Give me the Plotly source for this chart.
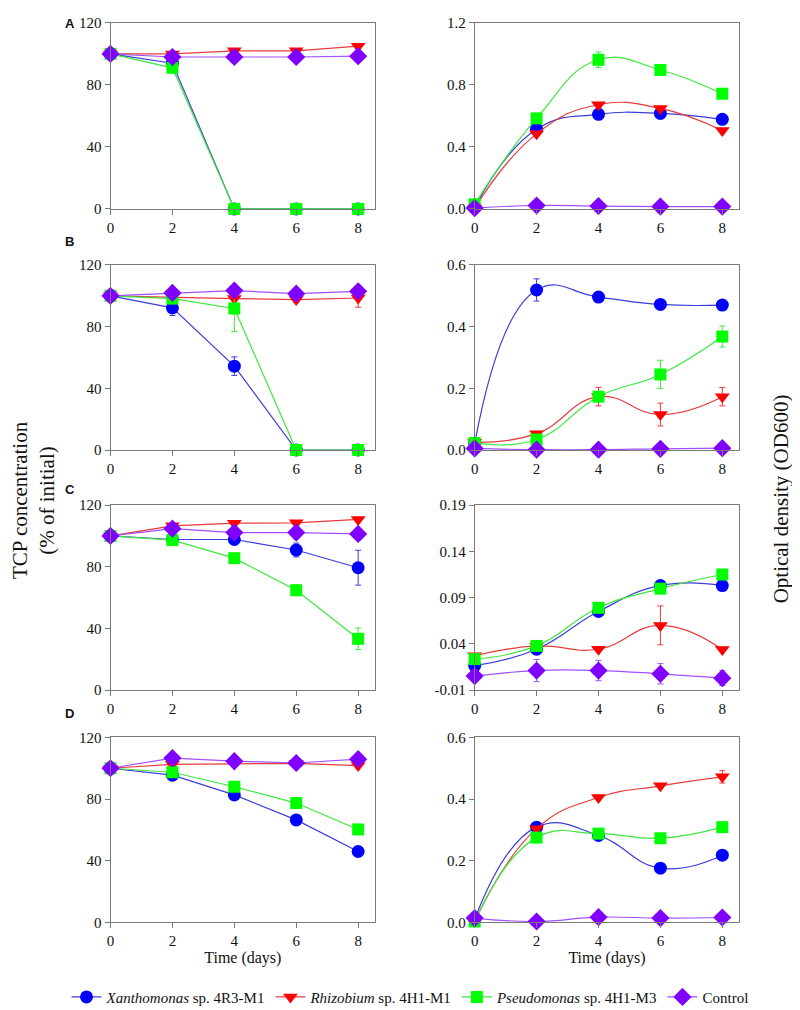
import plotly.graph_objects as go

W, H = 800, 1010
days = [0, 2, 4, 6, 8]

series_names = ["<i>Xanthomonas</i> sp. 4R3-M1", "<i>Rhizobium</i> sp. 4H1-M1",
                "<i>Pseudomonas</i> sp. 4H1-M3", "Control"]
marker_colors = ["#0000ff", "#ff0000", "#00ff00", "#8000ff"]
line_colors = ["#3c3cdc", "#e83c3c", "#3ce83c", "#a050ff"]
symbols = ["circle", "triangle-down", "square", "diamond"]
marker_sizes = [13, 13, 12, 14]

# ---- Panel A ----
tcp_A_xan = [100, 94, 0, 0, 0]
tcp_A_rhi = [100, 100, 102, 102, 105]
tcp_A_pse = [100, 91, 0, 0, 0]
tcp_A_ctl = [100, 98, 98, 98, 98.5]
tcp_A_xan_err = [0, 6, 0, 0, 0]
tcp_A_pse_err = [0, 3, 0, 0, 0]

od_A_xan = [0.01, 0.514, 0.61, 0.616, 0.578]
od_A_rhi = [0.005, 0.484, 0.672, 0.648, 0.505]
od_A_pse = [0.03, 0.584, 0.962, 0.896, 0.743]
od_A_ctl = [0.005, 0.022, 0.018, 0.015, 0.015]
od_A_pse_err = [0, 0, 0.05, 0, 0]

# ---- Panel B ----
tcp_B_xan = [100, 92.2, 54.4, 0, 0]
tcp_B_rhi = [100, 99, 98.2, 97.6, 98.6]
tcp_B_pse = [100, 98.2, 91.8, 0, 0]
tcp_B_ctl = [100, 101.9, 103.4, 101.4, 102.9]
tcp_B_xan_err = [0, 5, 6, 0, 0]
tcp_B_rhi_err = [0, 0, 0, 2, 6]
tcp_B_pse_err = [0, 0, 15, 0, 0]
tcp_B_ctl_err = [0, 0, 3, 0, 0]

od_B_xan = [0.021, 0.519, 0.496, 0.472, 0.47]
od_B_rhi = [0.025, 0.053, 0.173, 0.115, 0.173]
od_B_pse = [0.023, 0.034, 0.173, 0.245, 0.368]
od_B_ctl = [0.005, 0.001, 0.001, 0.004, 0.006]
od_B_xan_err = [0, 0.036, 0, 0, 0]
od_B_rhi_err = [0, 0, 0.03, 0.037, 0.03]
od_B_pse_err = [0, 0, 0, 0.046, 0.034]

# ---- Panel C ----
tcp_C_xan = [100, 97.7, 97.7, 90.9, 79.4]
tcp_C_rhi = [100, 106.6, 108.3, 108.5, 110.7]
tcp_C_pse = [100, 97.3, 85.6, 64.8, 33.3]
tcp_C_ctl = [100, 104.7, 102.2, 102.2, 101.3]
tcp_C_xan_err = [0, 0, 0, 4.5, 11.3]
tcp_C_pse_err = [0, 0, 0, 3.5, 7]

od_C_xan = [0.0165, 0.0342, 0.075, 0.103, 0.103]
od_C_rhi = [0.0272, 0.0378, 0.0342, 0.060, 0.034]
od_C_pse = [0.0236, 0.0378, 0.079, 0.0997, 0.115]
od_C_ctl = [0.0052, 0.0112, 0.0112, 0.0077, 0.003]
od_C_rhi_err = [0, 0, 0, 0.021, 0]
od_C_ctl_err = [0, 0.012, 0.011, 0.011, 0.008]

# ---- Panel D ----
tcp_D_xan = [100, 95.5, 82.7, 66.5, 46]
tcp_D_rhi = [100, 102.5, 102.8, 103.2, 101.7]
tcp_D_pse = [100, 97.4, 88, 77.4, 60.3]
tcp_D_ctl = [100, 106.6, 104.6, 103.4, 105.9]

od_D_xan = [0.01, 0.309, 0.282, 0.176, 0.218]
od_D_rhi = [0.003, 0.304, 0.405, 0.443, 0.472]
od_D_pse = [0.003, 0.275, 0.288, 0.273, 0.309]
od_D_ctl = [0.014, 0.003, 0.017, 0.014, 0.016]
od_D_rhi_err = [0, 0, 0, 0, 0.02]

zeros = [0, 0, 0, 0, 0]

panels = [
    (0, 0, [tcp_A_xan, tcp_A_rhi, tcp_A_pse, tcp_A_ctl],
     [tcp_A_xan_err, zeros, tcp_A_pse_err, zeros], [0, 120], [0, 40, 80, 120], None, False),
    (0, 1, [od_A_xan, od_A_rhi, od_A_pse, od_A_ctl],
     [zeros, zeros, od_A_pse_err, zeros], [0, 1.2], [0, 0.4, 0.8, 1.2], ["0.0", "0.4", "0.8", "1.2"], True),
    (1, 0, [tcp_B_xan, tcp_B_rhi, tcp_B_pse, tcp_B_ctl],
     [tcp_B_xan_err, tcp_B_rhi_err, tcp_B_pse_err, tcp_B_ctl_err], [0, 120], [0, 40, 80, 120], None, False),
    (1, 1, [od_B_xan, od_B_rhi, od_B_pse, od_B_ctl],
     [od_B_xan_err, od_B_rhi_err, od_B_pse_err, zeros], [0, 0.6], [0, 0.2, 0.4, 0.6], ["0.0", "0.2", "0.4", "0.6"], True),
    (2, 0, [tcp_C_xan, tcp_C_rhi, tcp_C_pse, tcp_C_ctl],
     [tcp_C_xan_err, zeros, tcp_C_pse_err, zeros], [0, 120], [0, 40, 80, 120], None, False),
    (2, 1, [od_C_xan, od_C_rhi, od_C_pse, od_C_ctl],
     [zeros, od_C_rhi_err, zeros, od_C_ctl_err], [-0.01, 0.19], [-0.01, 0.04, 0.09, 0.14, 0.19],
     ["-0.01", "0.04", "0.09", "0.14", "0.19"], True),
    (3, 0, [tcp_D_xan, tcp_D_rhi, tcp_D_pse, tcp_D_ctl],
     [zeros, zeros, zeros, zeros], [0, 120], [0, 40, 80, 120], None, False),
    (3, 1, [od_D_xan, od_D_rhi, od_D_pse, od_D_ctl],
     [zeros, od_D_rhi_err, zeros, zeros], [0, 0.6], [0, 0.2, 0.4, 0.6], ["0.0", "0.2", "0.4", "0.6"], True),
]

row_px = [(7, 196), (253, 441), (497, 685), (733, 921)]
col_px = [(99, 365), (465, 731)]

SERIF = "Liberation Serif"
fig = go.Figure()
axis_color = "#7a7a7a"
tick_font = dict(family=SERIF, size=15, color="#111")

for i, (r, c, vals, errs, yr, tv, tt, spline) in enumerate(panels):
    n = i + 1
    xa = "x" if n == 1 else f"x{n}"
    ya = "y" if n == 1 else f"y{n}"
    for s in range(4):
        has_err = any(e > 0 for e in errs[s])
        fig.add_trace(go.Scatter(
            x=days, y=vals[s], xaxis=xa, yaxis=ya,
            mode="lines+markers", name=series_names[s],
            legendgroup=str(s), showlegend=(n == 1),
            cliponaxis=False,
            line=dict(color=line_colors[s], width=1.2,
                      shape="spline" if spline else "linear", smoothing=1.3),
            marker=dict(symbol=symbols[s], size=marker_sizes[s], color=marker_colors[s],
                        line=dict(width=0)),
            error_y=dict(type="data", array=errs[s], visible=has_err,
                         color=line_colors[s], thickness=1, width=3),
        ))
    y0, y1 = row_px[r]
    x0, x1 = col_px[c]
    xkey = "xaxis" if n == 1 else f"xaxis{n}"
    ykey = "yaxis" if n == 1 else f"yaxis{n}"
    xaxis = dict(domain=[x0 / W, x1 / W], anchor=ya, range=[0, 8.55],
                 tickvals=days, showline=True, mirror=True, linecolor=axis_color,
                 linewidth=1, ticks="outside", ticklen=5, tickcolor=axis_color,
                 showgrid=False, zeroline=False, tickfont=tick_font)
    if r == 3:
        xaxis["title"] = dict(text="Time (days)", standoff=2,
                              font=dict(family=SERIF, size=16, color="#111"))
    yaxis = dict(domain=[1 - y1 / H, 1 - y0 / H], anchor=xa, range=yr,
                 tickvals=tv, showline=True, mirror=True, linecolor=axis_color,
                 linewidth=1, ticks="outside", ticklen=5, tickcolor=axis_color,
                 showgrid=False, zeroline=False, tickfont=tick_font)
    if tt is not None:
        yaxis["ticktext"] = tt
    fig.layout[xkey] = xaxis
    fig.layout[ykey] = yaxis

annots = []
for lab, ypx in [("A", 8), ("B", 229), ("C", 481), ("D", 709)]:
    annots.append(dict(text="<b>" + lab + "</b>", x=58 / W, y=1 - ypx / H,
                       xref="paper", yref="paper",
                       xanchor="center", yanchor="middle", showarrow=False,
                       font=dict(family="Liberation Sans", size=13, color="#111")))

annots.append(dict(text="TCP concentration<br>(% of initial)", x=21 / W, y=1 - 492 / H,
                   xref="paper", yref="paper", textangle=-90, showarrow=False,
                   xanchor="center", yanchor="middle",
                   font=dict(family=SERIF, size=21, color="#111")))
annots.append(dict(text="Optical density (OD600)", x=773 / W, y=1 - 491 / H,
                   xref="paper", yref="paper", textangle=-90, showarrow=False,
                   xanchor="center", yanchor="middle",
                   font=dict(family=SERIF, size=21, color="#111")))

fig.update_layout(
    width=W, height=H, margin=dict(l=0, r=0, t=0, b=0),
    paper_bgcolor="white", plot_bgcolor="white",
    annotations=annots,
    legend=dict(orientation="h", x=0.5, xanchor="center", y=1 - 997 / H, yanchor="middle",
                font=dict(family=SERIF, size=15, color="#111"),
                itemwidth=30, tracegroupgap=0, bgcolor="rgba(0,0,0,0)"),
)

fig.write_html("out.html")
